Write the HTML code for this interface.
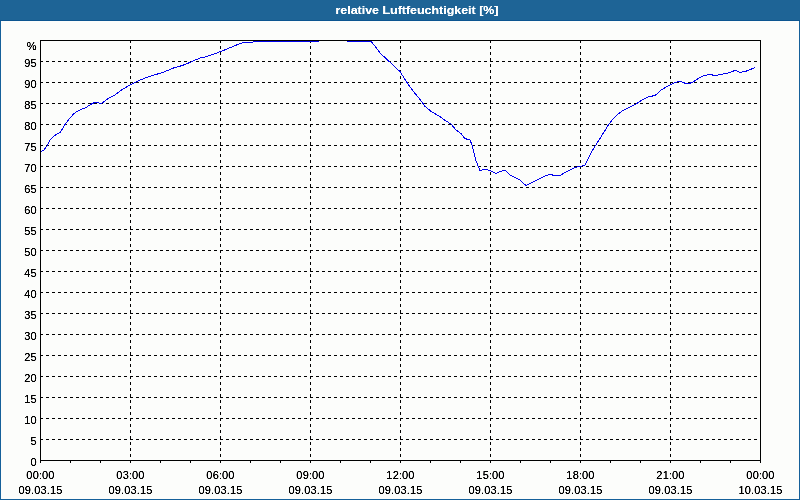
<!DOCTYPE html>
<html><head><meta charset="utf-8"><title>relative Luftfeuchtigkeit [%]</title>
<style>
html,body{margin:0;padding:0;background:#1e6496;}
body{width:800px;height:500px;overflow:hidden;font-family:"Liberation Sans",sans-serif;}
svg{display:block;}
text{font-family:"Liberation Sans",sans-serif;font-size:11px;fill:#000;letter-spacing:0.15px;}
.t{font-weight:bold;fill:#fff;font-size:11px;letter-spacing:0;}
</style></head><body>
<svg width="800" height="500" viewBox="0 0 800 500">
<defs><filter id="g" x="0" y="0" width="800" height="500" filterUnits="userSpaceOnUse" color-interpolation-filters="sRGB"><feComponentTransfer><feFuncA type="linear" slope="1.7" intercept="-0.1"/></feComponentTransfer></filter><filter id="h" x="0" y="0" width="800" height="500" filterUnits="userSpaceOnUse" color-interpolation-filters="sRGB"><feComponentTransfer><feFuncA type="linear" slope="1.35" intercept="-0.03"/></feComponentTransfer></filter></defs>
<rect x="0" y="0" width="800" height="500" fill="#1e6496"/>
<rect x="0" y="20" width="800" height="480" fill="#15609a"/>
<rect x="0" y="20" width="800" height="1" fill="#0c5590"/>
<rect x="1" y="21" width="798" height="478" fill="#fcfdfb"/>
<text class="t" filter="url(#h)" x="417" y="14" text-anchor="middle" textLength="163" lengthAdjust="spacingAndGlyphs">relative Luftfeuchtigkeit [%]</text>
<g shape-rendering="crispEdges" stroke="#000" stroke-width="1" fill="none">
<line x1="40" y1="439.5" x2="760" y2="439.5" stroke-dasharray="3 3"/>
<line x1="40" y1="418.5" x2="760" y2="418.5" stroke-dasharray="3 3"/>
<line x1="40" y1="397.5" x2="760" y2="397.5" stroke-dasharray="3 3"/>
<line x1="40" y1="376.5" x2="760" y2="376.5" stroke-dasharray="3 3"/>
<line x1="40" y1="355.5" x2="760" y2="355.5" stroke-dasharray="3 3"/>
<line x1="40" y1="334.5" x2="760" y2="334.5" stroke-dasharray="3 3"/>
<line x1="40" y1="313.5" x2="760" y2="313.5" stroke-dasharray="3 3"/>
<line x1="40" y1="292.5" x2="760" y2="292.5" stroke-dasharray="3 3"/>
<line x1="40" y1="271.5" x2="760" y2="271.5" stroke-dasharray="3 3"/>
<line x1="40" y1="250.5" x2="760" y2="250.5" stroke-dasharray="3 3"/>
<line x1="40" y1="229.5" x2="760" y2="229.5" stroke-dasharray="3 3"/>
<line x1="40" y1="208.5" x2="760" y2="208.5" stroke-dasharray="3 3"/>
<line x1="40" y1="187.5" x2="760" y2="187.5" stroke-dasharray="3 3"/>
<line x1="40" y1="166.5" x2="760" y2="166.5" stroke-dasharray="3 3"/>
<line x1="40" y1="145.5" x2="760" y2="145.5" stroke-dasharray="3 3"/>
<line x1="40" y1="124.5" x2="760" y2="124.5" stroke-dasharray="3 3"/>
<line x1="40" y1="103.5" x2="760" y2="103.5" stroke-dasharray="3 3"/>
<line x1="40" y1="82.5" x2="760" y2="82.5" stroke-dasharray="3 3"/>
<line x1="40" y1="61.5" x2="760" y2="61.5" stroke-dasharray="3 3"/>
<line x1="130.5" y1="40" x2="130.5" y2="460" stroke-dasharray="3 3"/>
<line x1="220.5" y1="40" x2="220.5" y2="460" stroke-dasharray="3 3"/>
<line x1="310.5" y1="40" x2="310.5" y2="460" stroke-dasharray="3 3"/>
<line x1="400.5" y1="40" x2="400.5" y2="460" stroke-dasharray="3 3"/>
<line x1="490.5" y1="40" x2="490.5" y2="460" stroke-dasharray="3 3"/>
<line x1="580.5" y1="40" x2="580.5" y2="460" stroke-dasharray="3 3"/>
<line x1="670.5" y1="40" x2="670.5" y2="460" stroke-dasharray="3 3"/>
<line x1="40.5" y1="460" x2="40.5" y2="463"/>
<line x1="70.5" y1="460" x2="70.5" y2="463"/>
<line x1="100.5" y1="460" x2="100.5" y2="463"/>
<line x1="130.5" y1="460" x2="130.5" y2="463"/>
<line x1="160.5" y1="460" x2="160.5" y2="463"/>
<line x1="190.5" y1="460" x2="190.5" y2="463"/>
<line x1="220.5" y1="460" x2="220.5" y2="463"/>
<line x1="250.5" y1="460" x2="250.5" y2="463"/>
<line x1="280.5" y1="460" x2="280.5" y2="463"/>
<line x1="310.5" y1="460" x2="310.5" y2="463"/>
<line x1="340.5" y1="460" x2="340.5" y2="463"/>
<line x1="370.5" y1="460" x2="370.5" y2="463"/>
<line x1="400.5" y1="460" x2="400.5" y2="463"/>
<line x1="430.5" y1="460" x2="430.5" y2="463"/>
<line x1="460.5" y1="460" x2="460.5" y2="463"/>
<line x1="490.5" y1="460" x2="490.5" y2="463"/>
<line x1="520.5" y1="460" x2="520.5" y2="463"/>
<line x1="550.5" y1="460" x2="550.5" y2="463"/>
<line x1="580.5" y1="460" x2="580.5" y2="463"/>
<line x1="610.5" y1="460" x2="610.5" y2="463"/>
<line x1="640.5" y1="460" x2="640.5" y2="463"/>
<line x1="670.5" y1="460" x2="670.5" y2="463"/>
<line x1="700.5" y1="460" x2="700.5" y2="463"/>
<line x1="730.5" y1="460" x2="730.5" y2="463"/>
<line x1="760.5" y1="460" x2="760.5" y2="463"/>
</g>
<polyline points="40.5,152.5 41,151.6 44,150 47,146 50,140 53,137 57,134 60,132.4 63,128 65.6,123.6 70,118 74,113.6 77,111.4 81,109.4 85,108.2 89,105.4 91.2,104.2 93,103.2 95,102.5 97.5,102.5 100,103.5 102,103 105.6,100.6 108,98.6 115,95 122,89.6 130,85 138,81 146,77.6 150,76.3 154,75 161,73 168,70.4 174.8,67.5 182,65.6 188,63.2 195.4,60 199.5,58.2 206.4,56.7 213,54.4 220.8,51.5 226,49.4 232.5,46.7 239,43.9 244,42.5 252.5,42.5 253.5,41.5 318,41.5 319,40.5 347,40.5 348,41.5 371,41.5 375,46 380,53 388,60.4 394,66 400.4,72 404,78 408,84 413,91 418,97 422,102 425,106.4 428,109 432,112 439,116 445,120.4 451,124 456,130 461,133.6 465,138.6 470,140 472,145 474,153 476,161 480,170.4 485,169.2 490,170.4 496,173.4 500,171.4 505,170.2 510,175 520,180 526,185.6 536,180.4 545,176 550,174.4 555,175.6 560,175.4 568,171 575,167.4 580,166.6 585,165 592,151 600,138.5 604,132 609,124 613,119 617,115 622,111 629,107.6 636,104 642,100 649,96.6 655,95.6 662,89.4 670,85 675,82.4 680,81.2 685,83.2 690,83.2 694,81.4 698,78.6 704,75.6 710,74.4 715,75.6 720,74.6 728,73 732,71.6 735.6,70.2 740,72.4 745,71.6 750,69.6 755,67.6" fill="none" stroke="#0000ee" stroke-width="1" stroke-linejoin="round" shape-rendering="crispEdges"/>
<rect x="40.5" y="40.5" width="720" height="420" fill="none" stroke="#000" stroke-width="1" shape-rendering="crispEdges"/>
<g text-anchor="end" filter="url(#g)">
<text x="36.7" y="50">%</text>
<text x="36.7" y="465.5">0</text>
<text x="36.7" y="444.5">5</text>
<text x="36.7" y="423.5">10</text>
<text x="36.7" y="402.5">15</text>
<text x="36.7" y="381.5">20</text>
<text x="36.7" y="360.5">25</text>
<text x="36.7" y="339.5">30</text>
<text x="36.7" y="318.5">35</text>
<text x="36.7" y="297.5">40</text>
<text x="36.7" y="276.5">45</text>
<text x="36.7" y="255.5">50</text>
<text x="36.7" y="234.5">55</text>
<text x="36.7" y="213.5">60</text>
<text x="36.7" y="192.5">65</text>
<text x="36.7" y="171.5">70</text>
<text x="36.7" y="150.5">75</text>
<text x="36.7" y="129.5">80</text>
<text x="36.7" y="108.5">85</text>
<text x="36.7" y="87.5">90</text>
<text x="36.7" y="66.5">95</text>
</g>
<g text-anchor="middle" filter="url(#g)">
<text x="40.5" y="478.5">00:00</text>
<text x="40.5" y="494">09.03.15</text>
<text x="130.5" y="478.5">03:00</text>
<text x="130.5" y="494">09.03.15</text>
<text x="220.5" y="478.5">06:00</text>
<text x="220.5" y="494">09.03.15</text>
<text x="310.5" y="478.5">09:00</text>
<text x="310.5" y="494">09.03.15</text>
<text x="400.5" y="478.5">12:00</text>
<text x="400.5" y="494">09.03.15</text>
<text x="490.5" y="478.5">15:00</text>
<text x="490.5" y="494">09.03.15</text>
<text x="580.5" y="478.5">18:00</text>
<text x="580.5" y="494">09.03.15</text>
<text x="670.5" y="478.5">21:00</text>
<text x="670.5" y="494">09.03.15</text>
<text x="760.5" y="478.5">00:00</text>
<text x="760.5" y="494">10.03.15</text>
</g>
</svg></body></html>
